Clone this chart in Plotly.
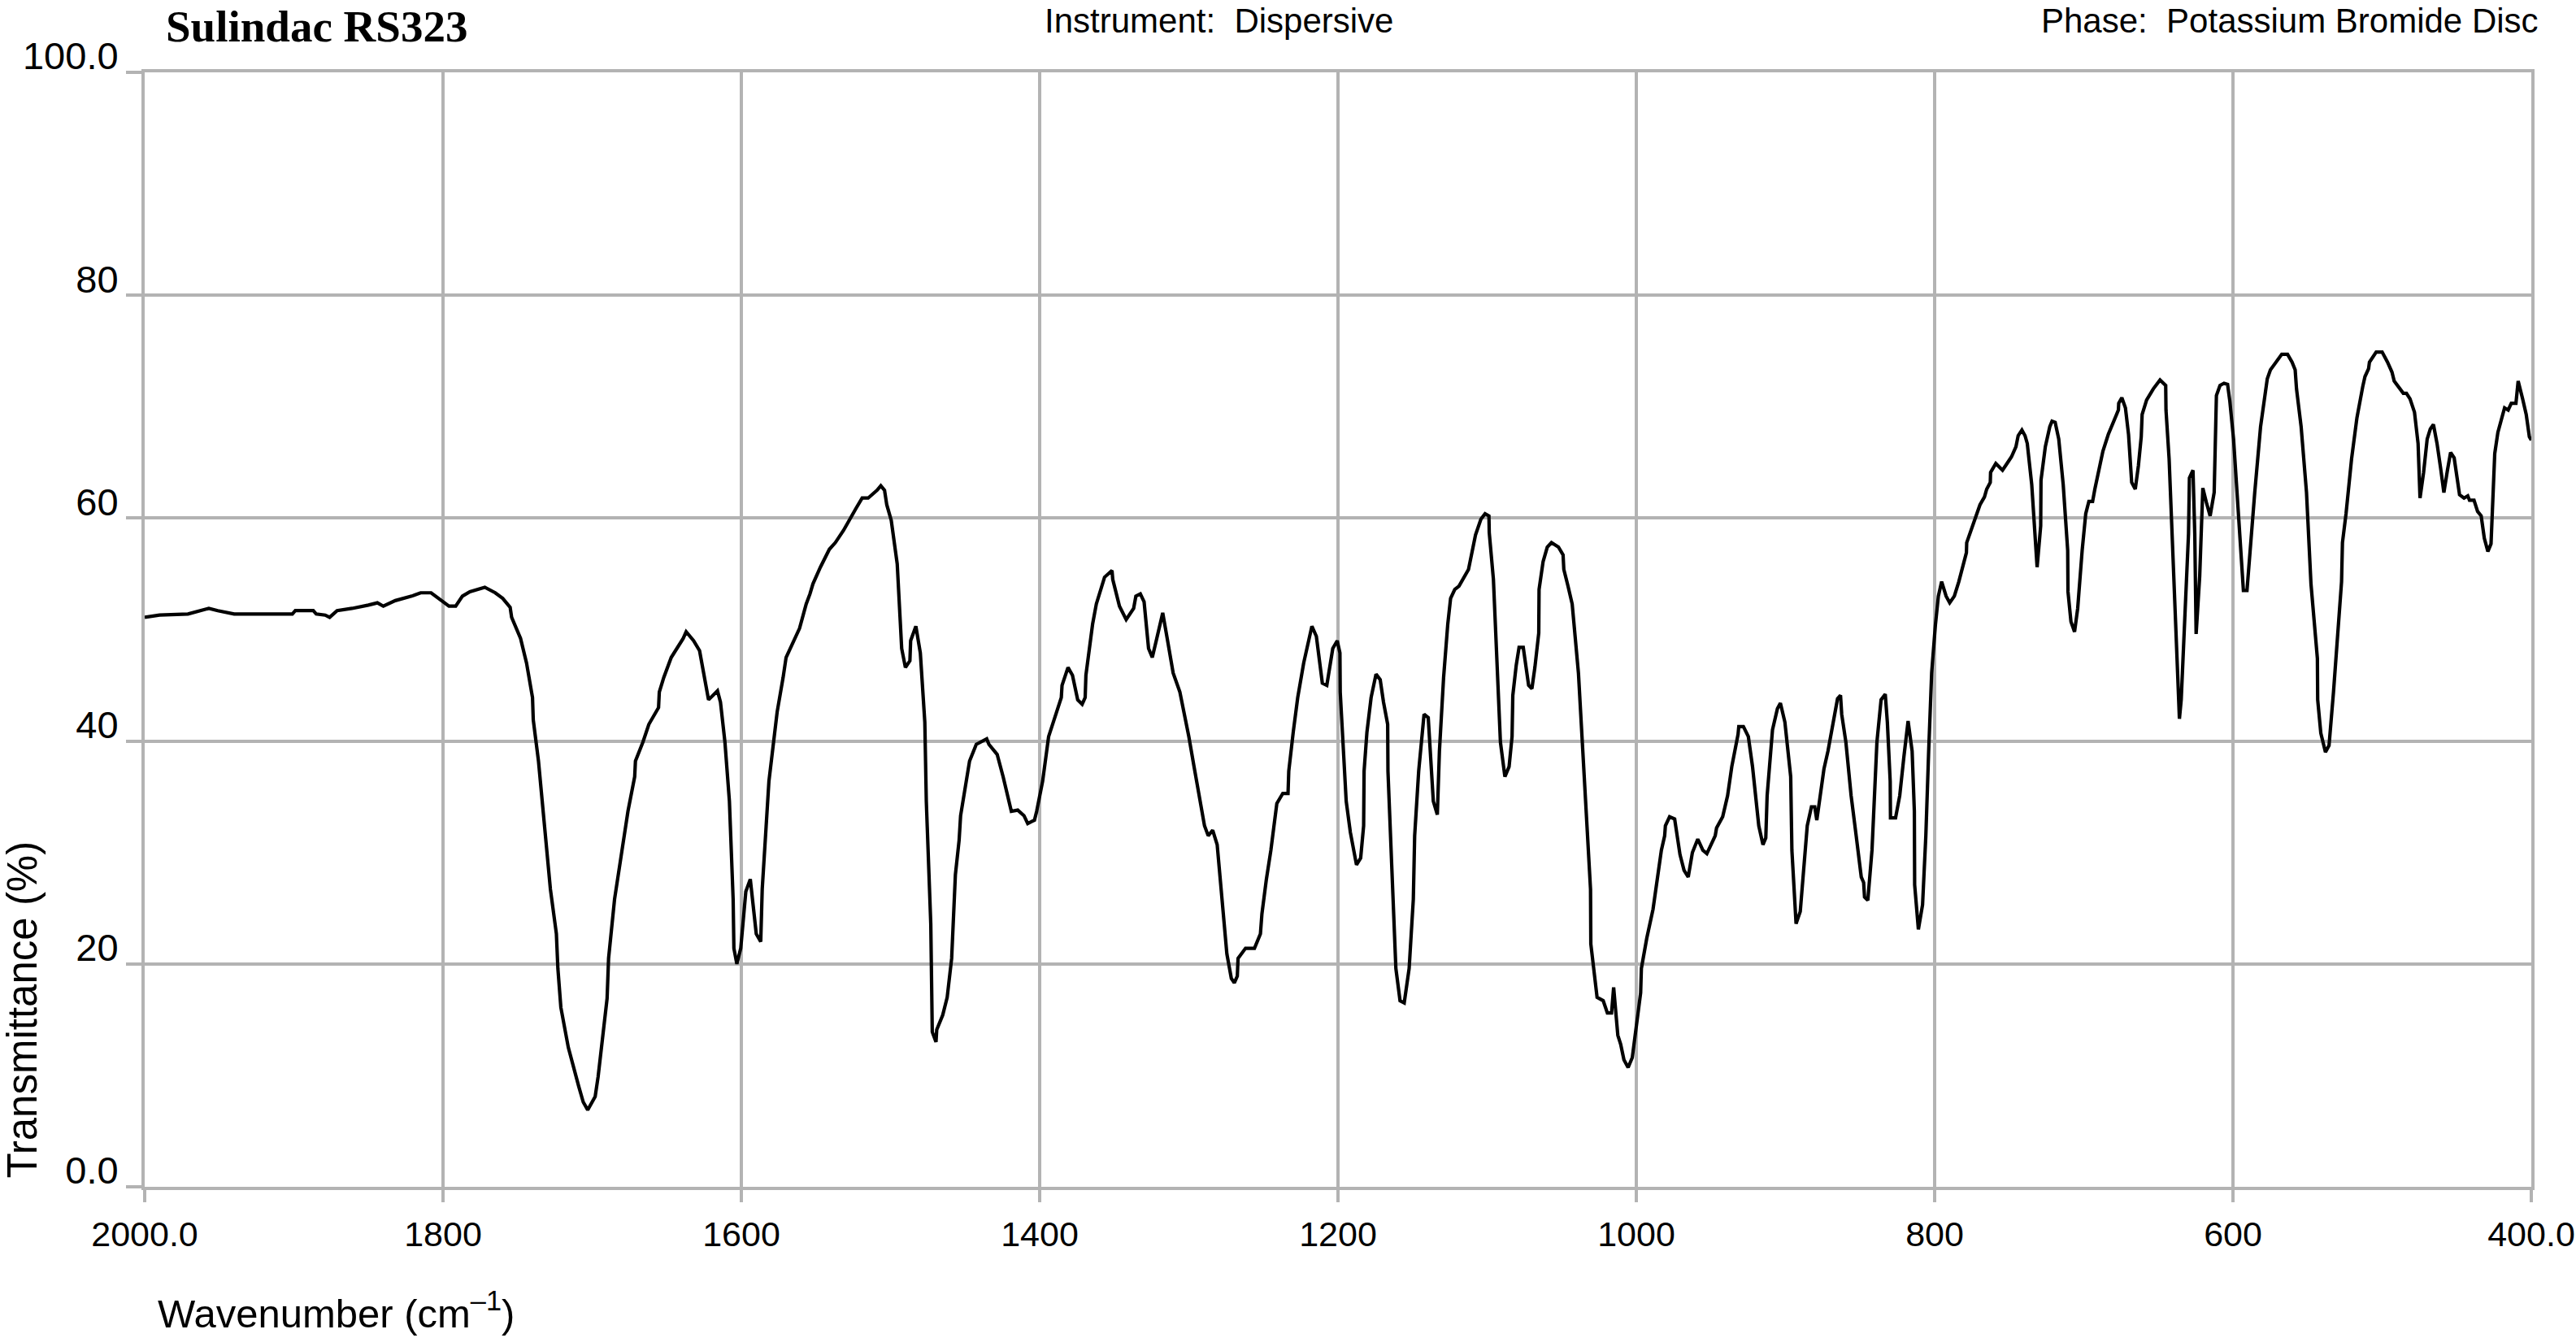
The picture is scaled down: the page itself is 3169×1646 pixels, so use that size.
import plotly.graph_objects as go

# ---------------- data ----------------
wavenumber = [
    2000, 1990, 1971, 1957, 1951, 1940, 1901, 1899, 1887, 1885, 1879, 1876, 1871, 1861, 1850, 1844,
    1840, 1832, 1821, 1815, 1808, 1800, 1796, 1791.5, 1787, 1782, 1772, 1765, 1760, 1755, 1754, 1748,
    1744, 1740, 1739.5, 1736, 1732, 1728, 1724, 1723, 1721, 1716, 1709, 1706, 1703, 1698, 1696, 1693,
    1690, 1689, 1685, 1680, 1676, 1671.5, 1671, 1666, 1662, 1655.5, 1655, 1652, 1647, 1639, 1637, 1632,
    1628, 1622, 1616, 1614, 1611, 1608, 1605.5, 1605, 1603, 1600.4, 1597, 1594, 1590, 1587, 1586, 1581.5,
    1576, 1572, 1570, 1561, 1556.5, 1554, 1552, 1547, 1541, 1537, 1531.5, 1523, 1519, 1515, 1509, 1506.5,
    1504, 1502.5, 1499.5, 1495.5, 1492.5, 1490, 1487, 1486.5, 1483, 1480, 1477, 1476, 1473, 1472, 1469.5,
    1469, 1465, 1462, 1459, 1456.5, 1454, 1453, 1451, 1447, 1442.5, 1438.5, 1435.5, 1434, 1428.5, 1424.5,
    1420, 1419, 1414.7, 1410.5, 1408, 1403.5, 1402, 1398, 1394, 1390, 1385.5, 1385, 1381, 1378, 1374.5,
    1371.5, 1369.5, 1369, 1364.5, 1362, 1356.5, 1351.5, 1351, 1346.5, 1342, 1337, 1335.5, 1332.5, 1330,
    1327, 1324.5, 1321.5, 1317.5, 1314.5, 1310.5, 1306, 1300.5, 1300, 1296.5, 1289.5, 1287, 1284, 1281,
    1278.5, 1274.5, 1271.5, 1269.5, 1267.5, 1267, 1262, 1256, 1252, 1251, 1248, 1245, 1241, 1237, 1233.5,
    1233, 1230, 1227, 1223, 1217.5, 1214.5, 1210.5, 1207.5, 1203.5, 1200.5, 1198.7, 1198.5, 1194.5,
    1191.7, 1187.6, 1184.8, 1182.8, 1182.5, 1180.6, 1177.8, 1174.5, 1171.7, 1169.5, 1166.7, 1166.5, 1164,
    1161.2, 1158.4, 1155.6, 1152.3, 1149.5, 1148.6, 1145.9, 1142.3, 1139.5, 1136.1, 1133.4, 1132, 1129.2,
    1126.4, 1124.5, 1121.7, 1118.9, 1112.5, 1107.8, 1104.2, 1101.4, 1098.8, 1098.6, 1095.8, 1093.9,
    1091.1, 1088.1, 1085.3, 1083.3, 1082.8, 1080.5, 1078.6, 1075.8, 1072.2, 1070, 1068, 1065.4, 1065.2,
    1062.5, 1059.7, 1056.9, 1052.2, 1049.1, 1048.6, 1045.8, 1043, 1038.8, 1036.1, 1033.3, 1030.7, 1030.5,
    1027.7, 1026.3, 1022.2, 1019.4, 1016.6, 1015.2, 1012.4, 1010.5, 1008.3, 1005.5, 1002.7, 1000, 997.1,
    996.6, 993, 988.8, 986, 983.2, 981, 980.5, 977.7, 974.3, 970.7, 968, 965.2, 962.4, 958.8, 955.4,
    952.7, 949.9, 947.1, 946.2, 942.1, 938.8, 936, 931.8, 931.3, 928.2, 924.9, 922.1, 917.9, 915.1, 913.2,
    912.3, 908.7, 905.4, 903.4, 900.4, 896.5, 895.7, 892.9, 890.1, 887.3, 885.4, 882.6, 880.4, 879, 874.2,
    871.5, 867.9, 865.1, 863.1, 862.3, 859.5, 856, 852.6, 849.2, 847.6, 847, 844.8, 842, 838.7, 835.9,
    833.1, 831.7, 829.8, 829.6, 826.2, 823.4, 820.6, 817.8, 815.1, 813.6, 813.4, 810.9, 808.1, 805.9, 804,
    802, 799.5, 797.5, 795.3, 792.3, 789.9, 786.8, 783.8, 781.7, 780.2, 778.7, 778.5, 775.7, 772.6, 769.6,
    766.6, 765.1, 762.7, 762.5, 759, 757.5, 754.5, 751.5, 748.5, 745.5, 744, 741.5, 739.4, 737.9, 734.9,
    731.3, 728.9, 728.7, 725.8, 722.8, 721.3, 719.2, 716.8, 713.8, 710.8, 710.6, 708.6, 706.2, 704.1,
    701.1, 698.7, 696.6, 694.1, 692.6, 689.6, 687.2, 683.6, 679.1, 676.8, 676.6, 674.5, 672.1, 670, 667.9,
    665.5, 663.4, 661.5, 660.9, 657.9, 653.4, 650.4, 648.9, 645.1, 644.9, 642.8, 640.7, 638.3, 635.9,
    634.7, 632.3, 629.8, 629.2, 626.8, 625.6, 624.7, 622.3, 620.2, 617.8, 615.3, 612.6, 611.7, 611.1,
    608.7, 606, 603.6, 602.1, 599.6, 597.5, 594.5, 593, 590.6, 588.5, 585.4, 581.5, 578.5, 577, 574.9,
    570.3, 567.3, 563.4, 560.4, 558.3, 557.4, 554.3, 550.7, 547.7, 544.7, 543.4, 543.2, 541.1, 538, 535.6,
    532.6, 529.6, 527.2, 526.6, 524.2, 520.5, 516.9, 513, 511.5, 509.1, 508.5, 504, 500, 496.4, 493.4,
    491.9, 488.8, 485.8, 483.7, 481.3, 478.3, 475.9, 474.6, 472.2, 469.8, 467.7, 465.6, 463.2, 460.8,
    458.6, 456.2, 454.1, 451.7, 450.2, 448.1, 445.1, 442.6, 441.4, 438.4, 436, 433.6, 431.5, 429.1, 427,
    425.4, 424.5, 422.4, 419.4, 417.9, 415.5, 413.4, 410.3, 408.8, 405.8, 403.4, 401.3, 400,
]

transmittance = [
    51.1, 51.3, 51.4, 51.9, 51.7, 51.4, 51.4, 51.7, 51.7, 51.4, 51.3, 51.1, 51.7, 51.9, 52.2, 52.4,
    52.1, 52.6, 53.0, 53.3, 53.3, 52.5, 52.1, 52.1, 53.0, 53.4, 53.8, 53.3, 52.8, 52.0, 51.1, 49.2,
    47.0, 43.9, 41.9, 38.2, 32.4, 26.7, 22.7, 19.6, 16.1, 12.5, 9.0, 7.6, 6.9, 8.1, 9.9, 13.4,
    16.9, 20.5, 25.8, 30.2, 33.7, 36.8, 38.2, 39.9, 41.5, 43.0, 44.4, 45.7, 47.5, 49.2, 49.8, 49.0,
    48.1, 43.7, 44.5, 43.5, 39.9, 34.6, 25.8, 21.4, 20.0, 21.4, 26.5, 27.6, 22.7, 22.0, 26.7, 36.4,
    42.6, 45.7, 47.5, 50.1, 52.3, 53.2, 54.1, 55.6, 57.2, 57.8, 58.9, 60.9, 61.8, 61.8, 62.5, 62.9,
    62.5, 61.2, 59.8, 55.9, 48.3, 46.6, 47.2, 49.0, 50.3, 47.9, 41.7, 34.6, 23.6, 13.9, 13.0,
    14.1, 15.4, 17.0, 20.5, 28.0, 31.1, 33.3, 35.1, 38.2, 39.7, 40.0, 40.2, 39.7, 38.8, 36.8,
    34.4, 33.7, 33.8, 33.3, 32.6, 32.9, 33.7, 36.4, 40.4, 42.1, 43.9, 45.0, 46.6, 45.9, 43.7,
    43.3, 43.9, 45.9, 50.5, 52.3, 54.7, 55.3, 54.5, 52.1, 50.9, 51.9, 53.0, 53.2, 52.5,
    48.3, 47.5, 49.2, 51.5, 49.2, 46.1, 44.4, 41.0, 40.4, 37.7, 32.4, 31.5, 32.0, 30.7,
    27.1, 20.9, 18.7, 18.3, 18.9, 20.5, 21.4, 21.4, 22.7, 24.5, 27.6, 30.2, 34.4, 35.3, 35.3,
    37.3, 40.8, 43.9, 47.0, 50.3, 49.4, 45.2, 45.0, 48.3, 49.0, 47.9, 44.4, 34.6,
    31.8, 28.9, 29.5, 32.4, 37.3, 40.8, 43.9, 46.0, 45.5, 43.5, 41.5, 37.3, 28.9,
    19.6, 16.7, 16.5, 19.6, 25.8, 31.5, 37.3, 42.4, 42.1, 34.6, 33.4, 39.1, 45.7,
    50.5, 52.8, 53.6, 53.9, 55.4, 58.5, 59.9, 60.4, 60.2, 58.7, 54.5, 48.8,
    39.9, 36.8, 37.7, 40.4, 44.1, 46.8, 48.4, 48.4, 45.0, 44.7, 46.6, 49.7, 53.6,
    56.1, 57.4, 57.8, 57.4, 56.7, 55.4, 53.9, 52.3, 46.1, 39.5, 32.9, 26.7, 21.8,
    18.3, 17.0, 16.7, 15.6, 15.6, 17.9, 13.6, 12.8, 11.4, 10.7, 11.6, 14.3, 17.4,
    19.6, 22.3, 24.9, 27.6, 30.2, 31.5, 32.4, 33.2, 33.0, 29.8, 28.4, 27.8, 30.0, 31.2, 30.2,
    29.9, 30.7, 31.5, 32.2, 33.2, 35.1, 37.7, 40.6, 41.3, 41.3, 40.4, 37.7, 32.4, 30.7, 31.3,
    35.1, 41.0, 42.9, 43.4, 41.7, 36.8, 30.2, 23.6, 24.7, 29.3, 32.4, 34.1, 34.1, 32.9, 37.5,
    39.1, 41.7, 43.8, 44.1, 42.4, 39.9, 35.1, 31.5, 27.8, 27.3, 26.0, 25.7, 30.2, 39.9, 43.7,
    44.2, 41.7, 36.4, 33.1, 33.1, 35.1, 38.6, 41.8, 39.1, 33.7, 27.1, 23.1, 25.3, 31.5, 39.1,
    46.1, 50.4, 53.0, 54.3, 53.0, 52.4, 53.0, 54.3, 55.4, 56.3, 56.9, 57.8, 58.9, 60.2, 61.2,
    61.9, 62.6, 63.2, 64.1, 64.9, 64.7, 64.3, 64.9, 65.5, 66.4, 67.4, 67.9, 67.4, 66.7, 63.0,
    55.6, 59.3, 63.4, 66.4, 68.2, 68.7, 68.6, 67.1, 63.0, 57.1, 53.4, 50.7, 49.8, 51.9,
    57.1, 60.4, 61.5, 61.5, 62.6, 64.7, 66.0, 67.5, 69.0, 69.7, 70.3, 70.8, 69.9, 67.5, 63.2,
    62.6, 64.7, 67.3, 69.3, 70.6, 71.6, 72.1, 72.4, 71.9, 69.7, 65.3, 58.6, 50.4, 42.0,
    43.7, 51.1, 58.6, 63.6, 64.3, 58.6, 49.6, 54.8, 62.7, 61.4, 60.2, 62.3, 67.5, 71.0,
    71.9, 72.1, 72.0, 70.5, 67.1, 62.6, 57.4, 53.5, 53.5, 57.4, 62.3, 68.2, 71.2, 72.5, 73.3,
    74.2, 74.7, 74.7, 74.0, 73.3, 71.6, 68.2, 62.3, 54.1, 49.3, 47.4, 43.7, 40.7, 39.0, 39.6,
    44.4, 49.6, 54.3, 57.8, 60.4, 65.3, 69.0, 71.8, 72.7, 73.4, 74.0, 74.9, 74.9, 74.0, 73.1,
    72.3, 71.8, 71.2, 71.2, 70.7, 69.5, 66.7, 61.8, 64.1, 67.1, 68.0, 68.4, 66.7, 64.5,
    62.3, 64.3, 65.9, 65.4, 63.9, 62.1, 61.8, 62.0, 61.6, 61.6, 60.6, 60.2, 58.2, 57.0, 57.7,
    62.3, 65.8, 67.7, 69.3, 69.9, 69.7, 70.3, 70.3, 72.3, 70.7, 69.3, 67.3, 67.0,
]

x_tick_values = [2000, 1800, 1600, 1400, 1200, 1000, 800, 600, 400]
x_tick_labels = ["2000.0", "1800", "1600", "1400", "1200", "1000", "800", "600", "400.0"]
y_tick_values = [0, 20, 40, 60, 80, 100]
y_tick_labels = ["0.0", "20", "40", "60", "80", "100.0"]

title_text = "Sulindac RS323"
instrument_text = "Instrument:\u00a0\u00a0Dispersive"
phase_text = "Phase:\u00a0\u00a0Potassium Bromide Disc"
x_title = "Wavenumber (cm<sup>\u20131</sup>)"
y_title = "Transmittance (%)"

# ---------------- styling ----------------
W, H = 3169, 1646
L, R, T, B = 178, 55, 89, 186
GRID = "#b3b3b3"
SANS = "Liberation Sans, Arial, Helvetica, sans-serif"
SERIF = "Liberation Serif, Times New Roman, serif"

plot_w = W - L - R
plot_h = H - T - B


def px_x(X):
    return (X - L) / plot_w


def px_y(Y):
    return (H - B - Y) / plot_h


fig = go.Figure()
fig.add_trace(go.Scatter(
    x=wavenumber, y=transmittance, mode="lines",
    line=dict(color="black", width=4.2), hoverinfo="skip", showlegend=False,
))

fig.update_xaxes(
    range=[2000, 400], tickmode="array", tickvals=x_tick_values, ticktext=x_tick_labels,
    showgrid=True, gridcolor=GRID, gridwidth=4, zeroline=False,
    showline=True, linecolor=GRID, linewidth=4, mirror=True,
    ticks="outside", ticklen=15, tickwidth=4, tickcolor=GRID,
    tickfont=dict(family=SANS, size=43, color="black"),
    ticklabelstandoff=2, ticklabeloverflow="allow", automargin=False,
)
fig.update_yaxes(
    range=[0, 100], tickmode="array", tickvals=y_tick_values, ticktext=y_tick_labels,
    showgrid=True, gridcolor=GRID, gridwidth=4, zeroline=False,
    showline=True, linecolor=GRID, linewidth=4, mirror=True,
    ticks="outside", ticklen=19, tickwidth=4, tickcolor=GRID,
    tickfont=dict(family=SANS, size=47, color="black"),
    ticklabelstandoff=0, ticklabelshift=-20, ticklabeloverflow="allow", automargin=False,
)

annotations = [
    dict(text="<b>" + title_text + "</b>", x=px_x(202), y=px_y(0), xanchor="left", yanchor="top",
         font=dict(family=SERIF, size=55, color="black")),
    dict(text=instrument_text, x=px_x(1283), y=px_y(0), xanchor="left", yanchor="top",
         font=dict(family=SANS, size=42, color="black")),
    dict(text=phase_text, x=px_x(2509), y=px_y(0), xanchor="left", yanchor="top",
         font=dict(family=SANS, size=42, color="black")),
    dict(text=x_title, x=px_x(192), y=px_y(1612), xanchor="left", yanchor="middle",
         font=dict(family=SANS, size=49, color="black")),
    dict(text=y_title, x=px_x(27), y=px_y(1452), xanchor="center", yanchor="bottom", textangle=-90,
         font=dict(family=SANS, size=51, color="black")),
]
for a in annotations:
    a.update(xref="paper", yref="paper", showarrow=False)

fig.update_layout(
    width=W, height=H, margin=dict(l=L, r=R, t=T, b=B, pad=0),
    paper_bgcolor="white", plot_bgcolor="white",
    annotations=annotations, showlegend=False,
)

fig.write_html(
    "out.html",
    config={"displayModeBar": False},
    post_script="document.body.style.margin='0';document.body.style.overflow='hidden';",
)
